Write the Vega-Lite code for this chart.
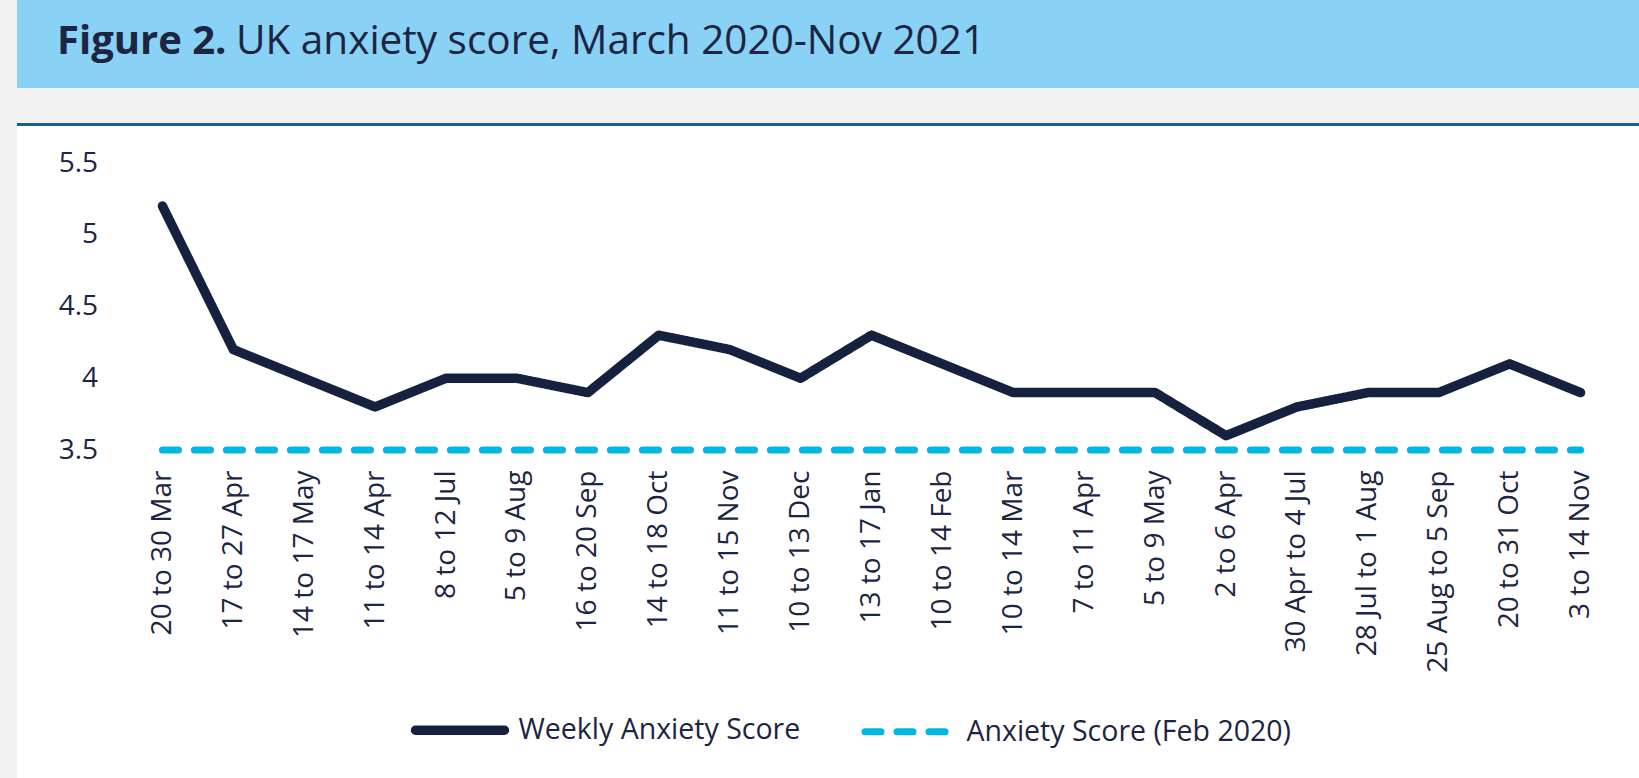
{
  "$schema": "https://vega.github.io/schema/vega-lite/v6.json",
  "background": "white",
  "padding": 0,
  "autosize": {"type": "pad"},
  "spacing": 0,
  "config": {
    "view": {"stroke": null},
    "font": "Open Sans",
    "concat": {"spacing": 0},
    "title": {
      "orient": "bottom",
      "anchor": "start",
      "frame": "group",
      "offset": -66,
      "baseline": "top",
      "font": "Open Sans",
      "fontSize": 40,
      "color": "#1c2541"
    },
    "legend": {
      "orient": "none",
      "legendX": 410.5,
      "legendY": 680.5,
      "direction": "horizontal",
      "symbolType": "stroke",
      "symbolSize": 7921,
      "symbolStrokeWidth": 8,
      "labelFont": "Open Sans",
      "labelFontSize": 28.5,
      "labelColor": "#1c2541",
      "labelOffset": 9,
      "columnPadding": 50,
      "padding": 0,
      "labelLimit": 600
    }
  },
  "hconcat": [
    {
      "data": {"values": []},
      "mark": "rect",
      "width": 17,
      "height": 778,
      "view": {"fill": "#f2f2f2", "stroke": null}
    },
    {
      "spacing": 0,
      "vconcat": [
        {
          "spacing": 0,
          "hconcat": [
            {
              "data": {"values": []},
              "mark": "rect",
              "width": 219,
              "height": 88,
              "view": {"fill": "#89d1f5", "stroke": null},
              "title": {"text": "Figure 2.", "fontWeight": "bold", "dx": 40}
            },
            {
              "data": {"values": []},
              "mark": "rect",
              "width": 1403,
              "height": 88,
              "view": {"fill": "#89d1f5", "stroke": null},
              "title": {"text": "UK anxiety score, March 2020-Nov 2021", "fontWeight": "normal", "fontSize": 40.5, "dx": 0}
            }
          ]
        },
        {
          "data": {"values": []},
          "mark": "rect",
          "width": 1622,
          "height": 35,
          "view": {"fill": "#f2f2f2", "stroke": null}
        },
        {
          "data": {"values": []},
          "mark": "rect",
          "width": 1622,
          "height": 3,
          "view": {"fill": "#1b5e8b", "stroke": null}
        },
        {
          "data": {"values": []},
          "mark": "rect",
          "width": 1622,
          "height": 23,
          "view": {"fill": "white", "stroke": null}
        },
        {
          "spacing": 0,
          "hconcat": [
            {
              "data": {"values": []},
              "mark": "rect",
              "width": 40.5,
              "height": 10,
              "view": {"fill": "white", "stroke": null}
            },
            {
              "width": 1489,
              "height": 287,
              "data": {
                "values": [
                  {"week": "20 to 30 Mar", "series": "Weekly Anxiety Score", "score": 5.2},
                  {"week": "17 to 27 Apr", "series": "Weekly Anxiety Score", "score": 4.2},
                  {"week": "14 to 17 May", "series": "Weekly Anxiety Score", "score": 4.0},
                  {"week": "11 to 14 Apr", "series": "Weekly Anxiety Score", "score": 3.8},
                  {"week": "8 to 12 Jul", "series": "Weekly Anxiety Score", "score": 4.0},
                  {"week": "5 to 9 Aug", "series": "Weekly Anxiety Score", "score": 4.0},
                  {"week": "16 to 20 Sep", "series": "Weekly Anxiety Score", "score": 3.9},
                  {"week": "14 to 18 Oct", "series": "Weekly Anxiety Score", "score": 4.3},
                  {"week": "11 to 15 Nov", "series": "Weekly Anxiety Score", "score": 4.2},
                  {"week": "10 to 13 Dec", "series": "Weekly Anxiety Score", "score": 4.0},
                  {"week": "13 to 17 Jan", "series": "Weekly Anxiety Score", "score": 4.3},
                  {"week": "10 to 14 Feb", "series": "Weekly Anxiety Score", "score": 4.1},
                  {"week": "10 to 14 Mar", "series": "Weekly Anxiety Score", "score": 3.9},
                  {"week": "7 to 11 Apr", "series": "Weekly Anxiety Score", "score": 3.9},
                  {"week": "5 to 9 May", "series": "Weekly Anxiety Score", "score": 3.9},
                  {"week": "2 to 6 Apr", "series": "Weekly Anxiety Score", "score": 3.6},
                  {"week": "30 Apr to 4 Jul", "series": "Weekly Anxiety Score", "score": 3.8},
                  {"week": "28 Jul to 1 Aug", "series": "Weekly Anxiety Score", "score": 3.9},
                  {"week": "25 Aug to 5 Sep", "series": "Weekly Anxiety Score", "score": 3.9},
                  {"week": "20 to 31 Oct", "series": "Weekly Anxiety Score", "score": 4.1},
                  {"week": "3 to 14 Nov", "series": "Weekly Anxiety Score", "score": 3.9},
                  {"week": "20 to 30 Mar", "series": "Anxiety Score (Feb 2020)", "score": 3.5},
                  {"week": "17 to 27 Apr", "series": "Anxiety Score (Feb 2020)", "score": 3.5},
                  {"week": "14 to 17 May", "series": "Anxiety Score (Feb 2020)", "score": 3.5},
                  {"week": "11 to 14 Apr", "series": "Anxiety Score (Feb 2020)", "score": 3.5},
                  {"week": "8 to 12 Jul", "series": "Anxiety Score (Feb 2020)", "score": 3.5},
                  {"week": "5 to 9 Aug", "series": "Anxiety Score (Feb 2020)", "score": 3.5},
                  {"week": "16 to 20 Sep", "series": "Anxiety Score (Feb 2020)", "score": 3.5},
                  {"week": "14 to 18 Oct", "series": "Anxiety Score (Feb 2020)", "score": 3.5},
                  {"week": "11 to 15 Nov", "series": "Anxiety Score (Feb 2020)", "score": 3.5},
                  {"week": "10 to 13 Dec", "series": "Anxiety Score (Feb 2020)", "score": 3.5},
                  {"week": "13 to 17 Jan", "series": "Anxiety Score (Feb 2020)", "score": 3.5},
                  {"week": "10 to 14 Feb", "series": "Anxiety Score (Feb 2020)", "score": 3.5},
                  {"week": "10 to 14 Mar", "series": "Anxiety Score (Feb 2020)", "score": 3.5},
                  {"week": "7 to 11 Apr", "series": "Anxiety Score (Feb 2020)", "score": 3.5},
                  {"week": "5 to 9 May", "series": "Anxiety Score (Feb 2020)", "score": 3.5},
                  {"week": "2 to 6 Apr", "series": "Anxiety Score (Feb 2020)", "score": 3.5},
                  {"week": "30 Apr to 4 Jul", "series": "Anxiety Score (Feb 2020)", "score": 3.5},
                  {"week": "28 Jul to 1 Aug", "series": "Anxiety Score (Feb 2020)", "score": 3.5},
                  {"week": "25 Aug to 5 Sep", "series": "Anxiety Score (Feb 2020)", "score": 3.5},
                  {"week": "20 to 31 Oct", "series": "Anxiety Score (Feb 2020)", "score": 3.5},
                  {"week": "3 to 14 Nov", "series": "Anxiety Score (Feb 2020)", "score": 3.5}
                ]
              },
              "mark": {"type": "line", "strokeCap": "round", "strokeJoin": "round"},
              "encoding": {
                "x": {
                  "field": "week",
                  "type": "ordinal",
                  "sort": null,
                  "scale": {"type": "point", "padding": 0.5},
                  "axis": {
                    "title": null,
                    "labelAngle": -90,
                    "labelFont": "Open Sans",
                    "labelFontSize": 28,
                    "labelColor": "#1c2541",
                    "labelPadding": 20,
                    "labelLimit": 400,
                    "domain": false,
                    "ticks": false,
                    "grid": false
                  }
                },
                "y": {
                  "field": "score",
                  "type": "quantitative",
                  "scale": {"domain": [3.5, 5.5], "zero": false, "nice": false},
                  "axis": {
                    "title": null,
                    "values": [3.5, 4, 4.5, 5, 5.5],
                    "format": ".1~f",
                    "labelFont": "Open Sans",
                    "labelFontSize": 28,
                    "labelColor": "#1c2541",
                    "labelPadding": 29.5,
                    "domain": false,
                    "ticks": false,
                    "grid": false
                  }
                },
                "color": {
                  "field": "series",
                  "type": "nominal",
                  "scale": {
                    "domain": ["Weekly Anxiety Score", "Anxiety Score (Feb 2020)"],
                    "range": ["#16213f", "#00b6e4"]
                  },
                  "legend": {
                    "title": null,
                    "encode": {"symbols": {"update": {"strokeCap": {"value": "round"}}}}
                  }
                },
                "strokeDash": {
                  "field": "series",
                  "type": "nominal",
                  "scale": {
                    "domain": ["Weekly Anxiety Score", "Anxiety Score (Feb 2020)"],
                    "range": [[1, 0], [16, 16]]
                  },
                  "legend": {
                    "title": null,
                    "encode": {"symbols": {"update": {"strokeCap": {"value": "round"}}}}
                  }
                },
                "strokeWidth": {
                  "field": "series",
                  "type": "ordinal",
                  "scale": {
                    "domain": ["Weekly Anxiety Score", "Anxiety Score (Feb 2020)"],
                    "range": [9.5, 7]
                  },
                  "legend": null
                }
              }
            }
          ]
        }
      ]
    }
  ]
}
